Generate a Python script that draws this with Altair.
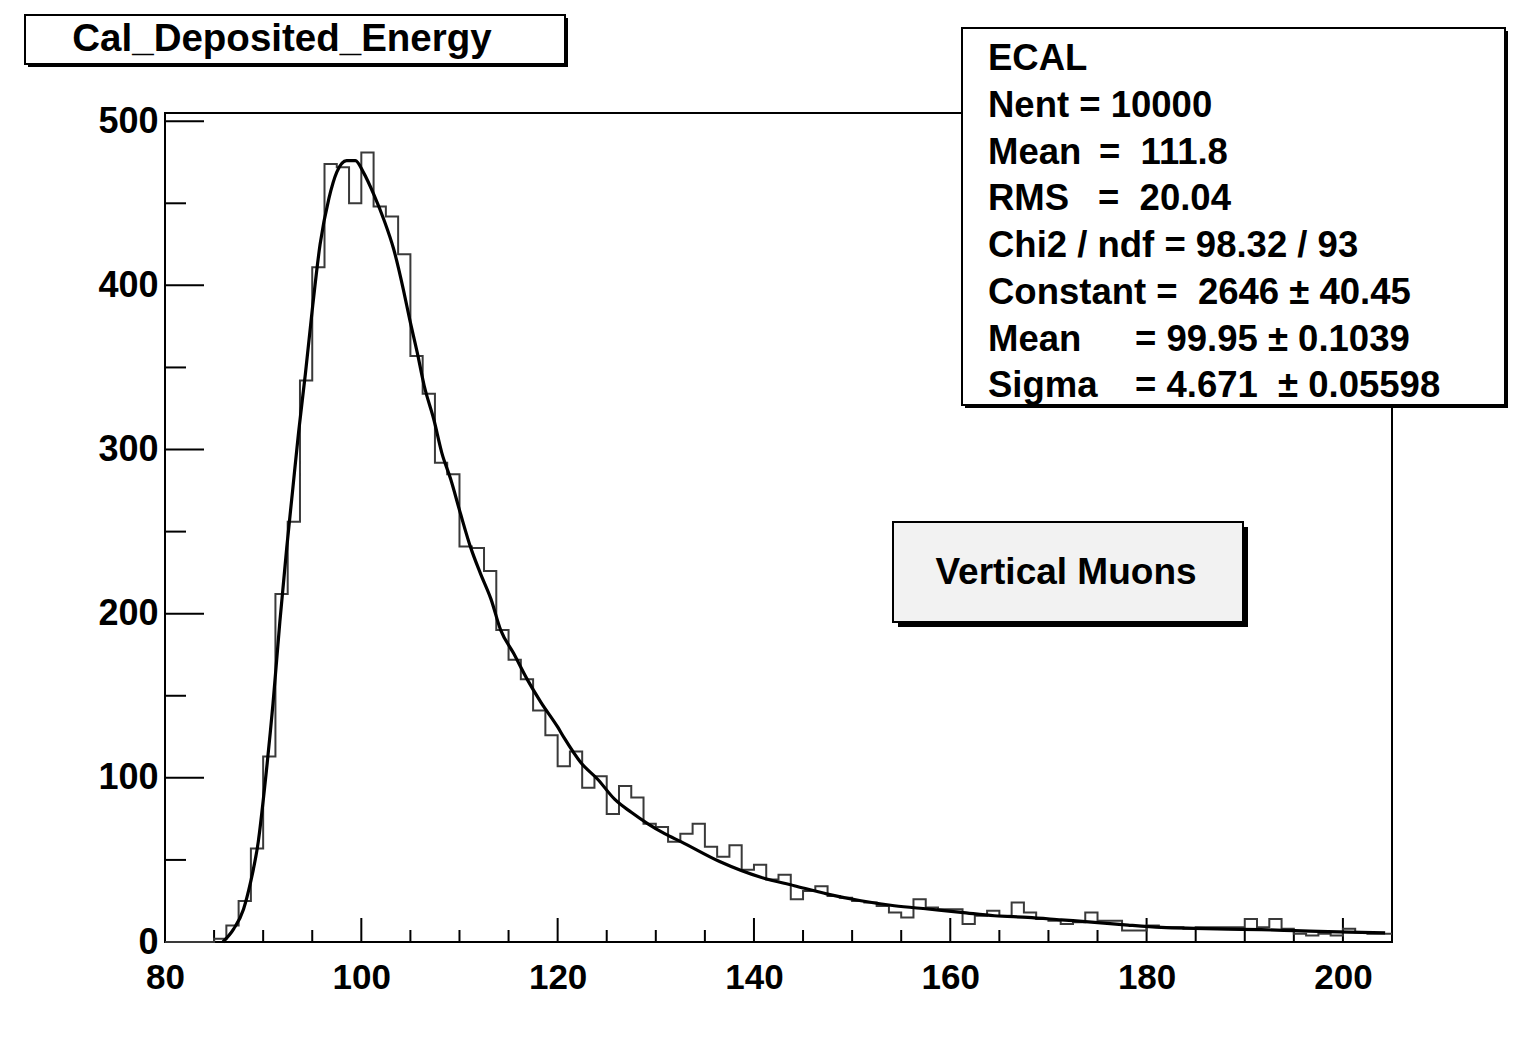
import altair as alt
import pandas as pd

# ---------------- data ----------------
X_MIN, X_MAX, N_BINS = 80, 205, 100
Y_MAX = 505

counts = [
    0, 0, 0, 0, 2, 10, 25, 57, 113, 212,
    256, 342, 411, 474, 472, 450, 481, 448, 442, 419,
    357, 334, 292, 285, 241, 240, 226, 190, 172, 160,
    141, 126, 107, 116, 94, 101, 78, 95, 88, 72,
    70, 61, 66, 72, 58, 52, 59, 44, 47, 38,
    41, 26, 31, 34, 28, 27, 25, 24, 22, 18,
    15, 26, 21, 20, 20, 11, 16, 19, 16, 24,
    18, 14, 13, 11, 12, 18, 13, 13, 7, 7,
    10, 9, 9, 8, 9, 9, 9, 9, 14, 9,
    14, 8, 5, 4, 5, 4, 8, 6, 5, 5,
]

fit_x = [85.9, 87.0, 88.0, 88.7, 89.5, 90.2, 91.0, 91.7, 92.4, 93.0,
         93.6, 94.3, 95.0, 95.8, 96.7, 97.5, 98.5, 99.4, 100.2, 101.3,
         102.3, 103.3, 104.3, 104.9, 105.7, 106.4, 107.4, 108.2, 109.1, 110.1,
         111.1, 112.1, 113.2, 114.2, 115.5, 116.9, 118.3, 120.0, 120.7, 122.4,
         124.1, 125.8, 127.5, 129.2, 130.9, 132.6, 136.5, 140.7, 144.1, 147.5,
         150.9, 154.3, 157.7, 161.1, 164.5, 167.9, 171.3, 174.7, 178.1, 181.5,
         184.9, 188.3, 191.7, 195.1, 198.5, 201.9, 204.3]
fit_y = [0, 8, 20, 36, 61, 97, 145, 195, 240, 275,
         310, 346, 385, 425, 453, 469, 476, 476, 469, 455,
         440, 422, 397, 380, 359, 339, 318, 298, 282, 261,
         241, 225, 209, 190, 176, 160, 146, 131, 124, 109,
         99, 87, 79, 72, 66, 61, 49, 39.4, 34.3, 29.2,
         25.1, 22.1, 20.1, 18.1, 16, 15, 13.5, 12, 10.3, 8.9,
         8.3, 7.9, 7.5, 6.9, 6.3, 5.9, 5.5]

x_major = [80, 100, 120, 140, 160, 180, 200]
x_minor = [85, 90, 95, 105, 110, 115, 125, 130, 135, 145, 150, 155,
           165, 170, 175, 185, 190, 195, 205]
y_major = [0, 100, 200, 300, 400, 500]
y_minor = [50, 150, 250, 350, 450]

title_text = "Cal_Deposited_Energy"
stat_labels = ["ECAL", "Nent = 10000", "Mean", "RMS", "Chi2 / ndf = 98.32 / 93",
               "Constant =\u00a0\u00a02646 \u00b1\u00a040.45", "Mean", "Sigma"]
stat_values = ["", "", "=\u00a0\u00a0111.8", "=\u00a0\u00a020.04", "", "",
               "= 99.95 \u00b1\u00a00.1039", "= 4.671\u00a0\u00a0\u00b1\u00a00.05598"]
muon_text = "Vertical Muons"

# ---------------- layout (pixels) ----------------
W, H = 1227, 829
FONT = "Liberation Sans"

bw = (X_MAX - X_MIN) / N_BINS
edges = [X_MIN + i * bw for i in range(N_BINS + 1)]
hist_df = pd.DataFrame({"x": edges, "count": counts + [counts[-1]]})
fit_df = pd.DataFrame({"x": fit_x, "y": fit_y})

xs = alt.Scale(domain=[X_MIN, X_MAX], nice=False, zero=False)
ys = alt.Scale(domain=[0, Y_MAX], nice=False)

xaxis = alt.Axis(values=x_major, title=None, ticks=False, domain=False, grid=False,
                 labelFont=FONT, labelFontSize=35, labelFontWeight="bold",
                 labelColor="black", labelPadding=18, format="d",
                 labelFlush=False, labelOverlap=False)
yaxis = alt.Axis(values=y_major, title=None, ticks=False, domain=False, grid=False,
                 labelFont=FONT, labelFontSize=36, labelFontWeight="bold",
                 labelColor="black", labelPadding=7, format="d",
                 labelFlush=False, labelOverlap=False)

hist = alt.Chart(hist_df).mark_line(interpolate="step-after", color="#3a3a3a",
                                    strokeWidth=2).encode(
    x=alt.X("x:Q", scale=xs, axis=xaxis),
    y=alt.Y("count:Q", scale=ys, axis=yaxis),
)

fit = alt.Chart(fit_df).mark_line(interpolate="monotone", color="black",
                                  strokeWidth=3.2).encode(
    x=alt.X("x:Q", scale=xs),
    y=alt.Y("y:Q", scale=ys),
)

# inward ticks
ymaj = alt.Chart(pd.DataFrame({"v": y_major})).mark_rule(color="black", strokeWidth=2).encode(
    y=alt.Y("v:Q", scale=ys), x=alt.value(0), x2=alt.value(39))
ymin = alt.Chart(pd.DataFrame({"v": y_minor})).mark_rule(color="black", strokeWidth=2).encode(
    y=alt.Y("v:Q", scale=ys), x=alt.value(0), x2=alt.value(21))
xmaj = alt.Chart(pd.DataFrame({"v": x_major})).mark_rule(color="black", strokeWidth=2).encode(
    x=alt.X("v:Q", scale=xs), y=alt.value(H), y2=alt.value(H - 24))
xmin = alt.Chart(pd.DataFrame({"v": x_minor})).mark_rule(color="black", strokeWidth=2).encode(
    x=alt.X("v:Q", scale=xs), y=alt.value(H), y2=alt.value(H - 12))

one = pd.DataFrame({"a": [0]})


def box(x1, y1, x2, y2, fill, shadow):
    sh = alt.Chart(one).mark_rect(color="black").encode(
        x=alt.value(x1 + shadow), x2=alt.value(x2 + shadow),
        y=alt.value(y1 + shadow), y2=alt.value(y2 + shadow))
    bx = alt.Chart(one).mark_rect(fill=fill, stroke="black", strokeWidth=2).encode(
        x=alt.value(x1), x2=alt.value(x2), y=alt.value(y1), y2=alt.value(y2))
    return [sh, bx]


# title box (page coords minus plot origin 165,113)
title_layers = box(-140, -98, 400, -49, "white", 3) + [
    alt.Chart(pd.DataFrame({"t": [title_text]})).mark_text(
        font=FONT, fontSize=38.5, fontWeight="bold", color="black",
        align="center", baseline="alphabetic").encode(
        text="t:N", x=alt.value(117), y=alt.value(-62))
]

# stats box
stat_top = -85
line_y = [-43, 4, 51, 97, 144, 191, 238, 284]
stat_df = pd.DataFrame({"t": stat_labels, "yy": line_y})
val_x = [0, 0, 934, 933, 0, 0, 970, 970]
val_df = pd.DataFrame({"t": stat_values, "yy": line_y, "xx": val_x})
val_df = val_df[val_df["t"] != ""]

stat_layers = box(797, stat_top, 1340, 292, "white", 3) + [
    alt.Chart(stat_df).mark_text(font=FONT, fontSize=36.5, fontWeight="bold",
                                 color="black", align="left",
                                 baseline="alphabetic").encode(
        text="t:N", x=alt.value(823),
        y=alt.Y("yy:Q", scale=None)),
    alt.Chart(val_df).mark_text(font=FONT, fontSize=36.5, fontWeight="bold",
                                color="black", align="left",
                                baseline="alphabetic").encode(
        text="t:N", x=alt.X("xx:Q", scale=None),
        y=alt.Y("yy:Q", scale=None)),
]

muon_layers = box(728, 409, 1078, 509, "#f2f2f2", 5) + [
    alt.Chart(pd.DataFrame({"t": [muon_text]})).mark_text(
        font=FONT, fontSize=37, fontWeight="bold", color="black",
        align="center", baseline="alphabetic").encode(
        text="t:N", x=alt.value(901), y=alt.value(471))
]

chart = alt.layer(
    ymaj, ymin, xmaj, xmin, hist, fit,
    *title_layers, *stat_layers, *muon_layers,
).properties(
    width=W, height=H,
    autosize=alt.AutoSizeParams(type="none"),
    padding={"left": 157, "top": 105, "right": 117, "bottom": 78},
    background="white",
).configure_view(
    stroke="black", strokeWidth=2,
)

chart.save("out.html", embed_options={"renderer": "svg", "actions": False})
